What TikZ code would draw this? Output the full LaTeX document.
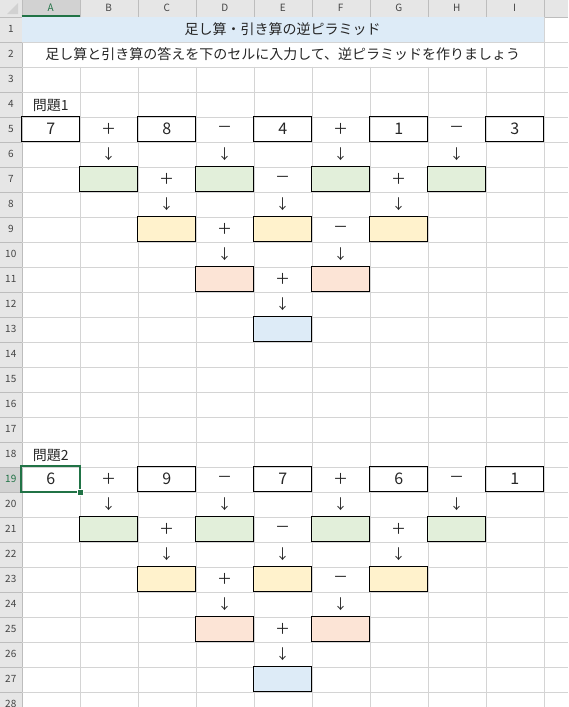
\documentclass[tikz,border=0pt]{standalone}
\usepackage{fontspec}
\setmainfont{Noto Sans CJK JP}
\usetikzlibrary{calc}
\definecolor{gridgray}{HTML}{D4D4D4}
\definecolor{hdrgray}{HTML}{E6E6E6}
\definecolor{hdrsel}{HTML}{D2D2D2}
\definecolor{hdrline}{HTML}{BDBDBD}
\definecolor{hdrfont}{HTML}{444444}
\definecolor{xlgreen}{HTML}{217346}
\definecolor{titleblue}{HTML}{DDEBF7}
\definecolor{boxgreen}{HTML}{E2EFDA}
\definecolor{boxyellow}{HTML}{FFF2CC}
\definecolor{boxpeach}{HTML}{FCE4D6}
\definecolor{boxblue}{HTML}{DDEBF7}
\begin{document}
\begin{tikzpicture}[x=1pt,y=-1pt,
    cellbox/.style={draw=black, line width=1pt, minimum width=58pt, minimum height=25pt, inner sep=0pt},
    numtext/.style={font=\fontsize{16}{18}\selectfont, text=black!85},
    optext/.style={font=\fontsize{15}{18}\selectfont, text=black!85},
    downtext/.style={font=\fontsize{14}{16}\selectfont, text=black!85},
    headtext/.style={font=\fontsize{14}{16}\selectfont, text=black!85},
    hdrtext/.style={font=\fontsize{10}{12}\selectfont, text=hdrfont}]
    \useasboundingbox (0,0) rectangle (568,707);
    \clip (0,0) rectangle (568,707);

    % cell centres
    \foreach \c in {1,...,9} {
        \foreach \r in {1,...,28} {
            \coordinate (c\c-\r) at ({58*\c-7.3},{25*\r+4.2});
        }
    }

    % headers
    \fill[hdrgray] (0,0) rectangle (568,16.7);
    \fill[hdrgray] (0,0) rectangle (21.7,707);
    \fill[hdrsel] (21.7,0) rectangle (79.7,16.7);
    \fill[hdrsel] (0,466.7) rectangle (21.7,491.7);
    \fill[hdrline!70] (7,14) -- (18,14) -- (18,3) -- cycle;
    \foreach \k in {1,...,9}
        \draw[hdrline] ({21.7+58*\k},0) -- ({21.7+58*\k},16.7);
    \foreach \k in {1,...,28}
        \draw[hdrline] (0,{16.7+25*\k}) -- (21.7,{16.7+25*\k});
    \draw[hdrline] (0,16.7) -- (568,16.7);
    \draw[hdrline] (21.7,0) -- (21.7,707);
    \draw[xlgreen, line width=2pt] (21.7,15.7) -- (79.7,15.7);
    \foreach \c/\l in {1/A,2/B,3/C,4/D,5/E,6/F,7/G,8/H,9/I}
        \node[hdrtext] (col\l) at ({58*\c-7.3},8.3) {\l};
    \node[hdrtext, fill=hdrsel, text=xlgreen, inner sep=1pt] at (colA) {A};
    \foreach \r in {1,...,28}
        \node[hdrtext] (row\r) at (10.8,{25*\r+4.2}) {\r};
    \node[hdrtext, fill=hdrsel, text=xlgreen, inner sep=1pt] at (row19) {19};

    % grid
    \fill[titleblue] (21.7,16.7) rectangle (543.7,41.7);
    \foreach \k in {1,...,27}
        \draw[gridgray] (21.7,{16.7+25*\k}) -- (568,{16.7+25*\k});
    \foreach \k in {1,...,8}
        \draw[gridgray] ({21.7+58*\k},66.7) -- ({21.7+58*\k},707);
    \draw[gridgray] (543.7,16.7) -- (543.7,707);

    % title rows
    \node[headtext] (title) at (282.7,29.2) {足し算・引き算の逆ピラミッド};
    \node[headtext] (guide) at (282.7,54.2) {足し算と引き算の答えを下のセルに入力して、逆ピラミッドを作りましょう};

    % the two pyramids
    \foreach \L/\name/\na/\nb/\nc/\nd/\ne in {4/問題1/7/8/4/1/3, 18/問題2/6/9/7/6/1} {
        \pgfmathtruncatemacro\ra{\L+1}
        \pgfmathtruncatemacro\rb{\L+2}
        \pgfmathtruncatemacro\rc{\L+3}
        \pgfmathtruncatemacro\rd{\L+4}
        \pgfmathtruncatemacro\re{\L+5}
        \pgfmathtruncatemacro\rf{\L+6}
        \pgfmathtruncatemacro\rg{\L+7}
        \pgfmathtruncatemacro\rh{\L+8}
        \pgfmathtruncatemacro\ri{\L+9}
        \node[headtext, yshift=-1.5pt] (label\L) at (c1-\L) {\name};
        \foreach \c/\n in {1/\na,3/\nb,5/\nc,7/\nd,9/\ne}
            \node[cellbox, numtext] (num\L-\c) at (c\c-\ra) {\n};
        \foreach \c/\op in {2/＋,4/－,6/＋,8/－}
            \node[optext] (opa\L-\c) at (c\c-\ra) {\op};
        \foreach \c in {2,4,6,8}
            \node[downtext] (dna\L-\c) at (c\c-\rb) {↓};
        \foreach \c in {2,4,6,8}
            \node[cellbox, fill=boxgreen] (grn\L-\c) at (c\c-\rc) {};
        \foreach \c/\op in {3/＋,5/－,7/＋}
            \node[optext] (opb\L-\c) at (c\c-\rc) {\op};
        \foreach \c in {3,5,7}
            \node[downtext] (dnb\L-\c) at (c\c-\rd) {↓};
        \foreach \c in {3,5,7}
            \node[cellbox, fill=boxyellow] (yel\L-\c) at (c\c-\re) {};
        \foreach \c/\op in {4/＋,6/－}
            \node[optext] (opc\L-\c) at (c\c-\re) {\op};
        \foreach \c in {4,6}
            \node[downtext] (dnc\L-\c) at (c\c-\rf) {↓};
        \foreach \c in {4,6}
            \node[cellbox, fill=boxpeach] (pch\L-\c) at (c\c-\rg) {};
        \node[optext] (opd\L) at (c5-\rg) {＋};
        \node[downtext] (dnd\L) at (c5-\rh) {↓};
        \node[cellbox, fill=boxblue] (top\L) at (c5-\ri) {};
    }

    % selected cell A19
    \draw[xlgreen, line width=2pt] (num18-1.north west) rectangle (num18-1.south east);
    \fill[xlgreen, draw=white, line width=0.8pt] ($(num18-1.south east)+(-2.8,-2.8)$) rectangle ($(num18-1.south east)+(2.8,2.8)$);
\end{tikzpicture}
\end{document}
